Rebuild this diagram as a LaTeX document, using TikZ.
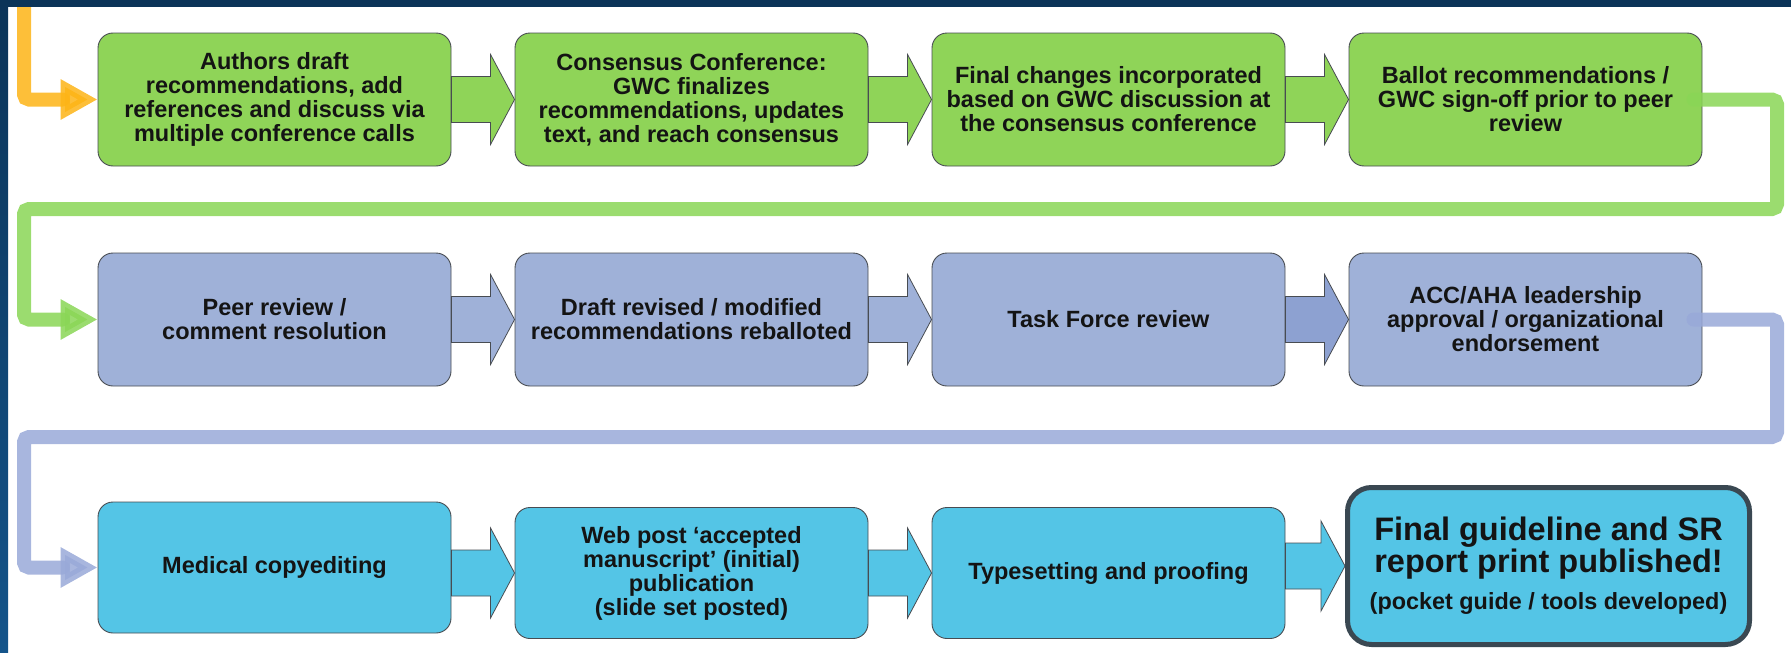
\documentclass[tikz,border=0pt]{standalone}
\usepackage{fontspec}
\setmainfont{Liberation Sans}
\usepackage{xcolor}
\usepackage{tikz}
\usetikzlibrary{positioning, arrows.meta, calc}

\definecolor{frametop}{RGB}{11,52,88}
\definecolor{framelow}{RGB}{20,84,138}
\definecolor{stagegreen}{RGB}{143,212,88}
\definecolor{stageblue}{RGB}{159,177,216}
\definecolor{stagebluedk}{RGB}{141,161,209}
\definecolor{stagecyan}{RGB}{84,197,230}
\definecolor{linkorange}{RGB}{253,180,22}
\definecolor{linkgreen}{RGB}{138,214,86}
\definecolor{linkblue}{RGB}{153,169,216}
\definecolor{edgegrey}{RGB}{72,76,82}
\definecolor{edgedark}{RGB}{58,72,82}

% block arrow from one stage to the next: #1 from, #2 to, #3 fill
\newcommand{\stagearrow}[3]{%
  \path[joinarrow, fill=#3] let \p1=(#1.east), \p2=(#2.west) in
    (\x1,\y2+23pt) -- (\x2-24pt,\y2+23pt) -- (\x2-24pt,\y2+45pt) -- (\p2)
    -- (\x2-24pt,\y2-45pt) -- (\x2-24pt,\y2-23pt) -- (\x1,\y2-23pt) -- cycle;}

\begin{document}
\begin{tikzpicture}[x=1pt, y=-1pt,
    stage/.style={rectangle, draw=edgegrey, line width=0.9pt, rounded corners=15pt, minimum width=353pt, minimum height=133pt, inner sep=0pt, align=center, text=black!92, font=\fontsize{23.5}{24}\selectfont\bfseries},
    final/.style={stage, draw=edgedark, line width=5pt, rounded corners=24pt, minimum width=402pt, minimum height=157pt, font=\fontsize{32.5}{32}\selectfont\bfseries},
    joinarrow/.style={draw=edgegrey, line width=0.8pt, line join=miter},
    link/.style={line width=14pt, line cap=round, rounded corners=5pt, opacity=.85, -{Triangle[length=37pt, width=38pt]}}
]
\useasboundingbox (0,0) rectangle (1791,653);

% row 1
\node[stage, fill=stagegreen] (draft) at (274.5,99.5) {Authors draft\\recommendations, add\\references and discuss via\\multiple conference calls};
\node[stage, fill=stagegreen] (confer) at (691.5,99.5) {Consensus Conference:\\GWC finalizes\\recommendations, updates\\text, and reach consensus};
\node[stage, fill=stagegreen] (changes) at (1108.5,99.5) {Final changes incorporated\\based on GWC discussion at\\the consensus conference};
\node[stage, fill=stagegreen] (ballot) at (1525.5,99.5) {Ballot recommendations /\\GWC sign-off prior to peer\\review};

% row 2
\node[stage, fill=stageblue] (peer) at (274.5,319.5) {Peer review /\\comment resolution};
\node[stage, fill=stageblue] (redraft) at (691.5,319.5) {Draft revised / modified\\recommendations reballoted};
\node[stage, fill=stageblue] (taskforce) at (1108.5,319.5) {Task Force review};
\node[stage, fill=stageblue] (leader) at (1525.5,319.5) {ACC/AHA leadership\\approval / organizational\\endorsement};

% row 3
\node[stage, fill=stagecyan, minimum height=131pt] (copyedit) at (274.5,567.5) {Medical copyediting};
\node[stage, fill=stagecyan, minimum height=131pt] (webpost) at (691.5,573) {Web post ‘accepted\\manuscript’ (initial)\\publication\\(slide set posted)};
\node[stage, fill=stagecyan, minimum height=131pt] (typeset) at (1108.5,573) {Typesetting and proofing};
\node[final, fill=stagecyan] (publish) at (1548.5,566) {Final guideline and SR\\report print published!\\[5pt]\fontsize{23.4}{24}\selectfont (pocket guide / tools developed)};

\stagearrow{draft}{confer}{stagegreen}
\stagearrow{confer}{changes}{stagegreen}
\stagearrow{changes}{ballot}{stagegreen}
\stagearrow{peer}{redraft}{stageblue}
\stagearrow{redraft}{taskforce}{stageblue}
\stagearrow{taskforce}{leader}{stagebluedk}
\stagearrow{copyedit}{webpost}{stagecyan}
\stagearrow{webpost}{typeset}{stagecyan}
\stagearrow{typeset}{publish}{stagecyan}

% row to row links
\coordinate (entry) at (24,0);
\coordinate (g1) at (1777,209);
\coordinate (g2) at (24,209);
\coordinate (b1) at (1777,437);
\coordinate (b2) at (24,437);
\draw[link, linkorange] (entry) |- (draft.west);
\draw[link, linkgreen] ([xshift=-9pt]ballot.east) -| (g1) -- (g2) |- (peer.west);
\draw[link, linkblue] ([xshift=-9pt]leader.east) -| (b1) -- (b2) |- (copyedit.west);

% frame
\fill[frametop] (0,0) rectangle (1791,7);
\shade[top color=frametop, bottom color=framelow] (0,0) rectangle (8,653);
\end{tikzpicture}
\end{document}
